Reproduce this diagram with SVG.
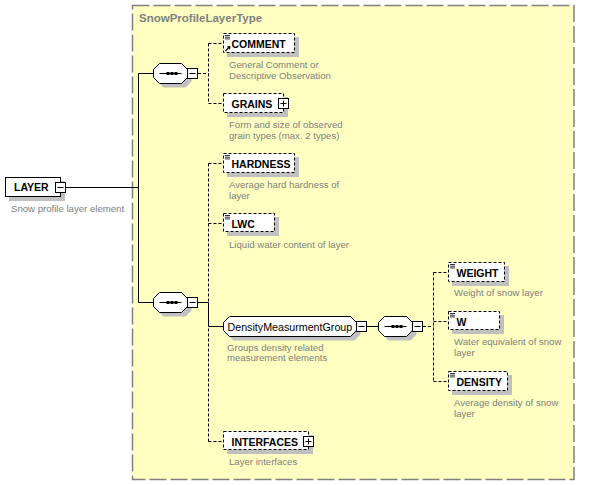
<svg xmlns="http://www.w3.org/2000/svg" width="593" height="485" viewBox="0 0 593 485">
<defs>
<style>
.bg{fill:#ffffc2;stroke:#808080;stroke-width:1.5;stroke-dasharray:17 4}
.title{font-family:"Liberation Sans",Arial,sans-serif;font-weight:bold;font-size:11.5px;fill:#808080}
.sh{fill:#c0c0c0}
.el{fill:#fff;stroke:#000;stroke-width:1;stroke-dasharray:3 2}
.sol{fill:#fff;stroke:#000;stroke-width:1}
.lbl{font-family:"Liberation Sans",Arial,sans-serif;font-weight:bold;font-size:10.5px;fill:#000}
.grp{font-family:"Liberation Sans",Arial,sans-serif;font-size:10.7px;fill:#000}
.desc{font-family:"Liberation Sans",Arial,sans-serif;font-size:9.6px;fill:#808080}
.ln{stroke:#000;stroke-width:1;fill:none}
.dl{stroke:#000;stroke-width:1;fill:none;stroke-dasharray:3 2}
.ic{stroke:#000;stroke-width:0.8}
</style>
<g id="seqshape">
<polygon class="sh" points="10,4 32,4 38,10 38,18 32,24 10,24 4,18 4,10"/>
<polygon class="sol" points="6,0 28,0 34,6 34,14 28,20 6,20 0,14 0,6"/>
<line class="ln" x1="6" y1="10" x2="28" y2="10"/>
<rect x="13" y="8.5" width="3" height="3" fill="#000"/>
<rect x="17" y="8.5" width="3" height="3" fill="#000"/>
<rect x="21" y="8.5" width="3" height="3" fill="#000"/>
</g>
<g id="minus">
<rect class="sol" x="0" y="0" width="10" height="10"/>
<line class="ln" x1="2" y1="5" x2="8" y2="5"/>
</g>
<g id="plus">
<rect class="sol" x="0" y="0" width="10" height="10"/>
<line class="ln" x1="2" y1="5" x2="8" y2="5"/>
<line class="ln" x1="5" y1="2" x2="5" y2="8"/>
</g>
<g id="doc">
<line class="ic" x1="0" y1="1.5" x2="5" y2="1.5"/>
<line class="ic" x1="0" y1="3.2" x2="5" y2="3.2"/>
<line class="ic" x1="0" y1="4.9" x2="5" y2="4.9"/>
</g>
</defs>

<rect class="bg" x="132.5" y="5.5" width="441.5" height="474"/>
<text class="title" x="139" y="22">SnowProfileLayerType</text>

<g id="connectors">
<line class="ln" x1="66" y1="187.5" x2="138.5" y2="187.5"/>
<line class="ln" x1="138.5" y1="73.5" x2="138.5" y2="302.5"/>
<line class="ln" x1="138.5" y1="73.5" x2="153.5" y2="73.5"/>
<line class="ln" x1="138.5" y1="302.5" x2="153.5" y2="302.5"/>
<line class="dl" x1="198" y1="73.5" x2="208.5" y2="73.5"/>
<line class="dl" x1="208.5" y1="43.5" x2="208.5" y2="103.5"/>
<line class="dl" x1="208.5" y1="43.5" x2="223.5" y2="43.5"/>
<line class="dl" x1="208.5" y1="103.5" x2="223.5" y2="103.5"/>
<line class="dl" x1="208.5" y1="163.5" x2="208.5" y2="441.5"/>
<line class="dl" x1="208.5" y1="163.5" x2="223.5" y2="163.5"/>
<line class="dl" x1="208.5" y1="223.5" x2="223.5" y2="223.5"/>
<line class="dl" x1="208.5" y1="441.5" x2="223.5" y2="441.5"/>
<line class="ln" x1="198" y1="302.5" x2="208.5" y2="302.5"/>
<line class="ln" x1="208.5" y1="302.5" x2="208.5" y2="326.5"/>
<line class="ln" x1="208.5" y1="326.5" x2="223.5" y2="326.5"/>
<line class="ln" x1="367" y1="326.5" x2="378.5" y2="326.5"/>
<line class="dl" x1="423" y1="326.5" x2="433.5" y2="326.5"/>
<line class="dl" x1="433.5" y1="272.5" x2="433.5" y2="381.5"/>
<line class="dl" x1="433.5" y1="272.5" x2="448.5" y2="272.5"/>
<line class="dl" x1="433.5" y1="321.5" x2="448.5" y2="321.5"/>
<line class="dl" x1="433.5" y1="381.5" x2="448.5" y2="381.5"/>
</g>

<g id="LAYER">
<rect class="sh" x="9" y="181" width="56" height="20"/>
<rect class="sol" x="5.5" y="177.5" width="55" height="19"/>
<text class="lbl" x="14" y="191">LAYER</text>
<use href="#minus" x="55.5" y="182.5"/>
<text class="desc" x="11" y="212">Snow profile layer element</text>
</g>

<g id="seq1">
<use href="#seqshape" x="153.5" y="63.5"/>
<use href="#minus" x="187.5" y="68.5"/>
</g>

<g id="COMMENT">
<rect class="sh" x="227" y="37" width="72" height="20"/>
<rect class="el" x="223.5" y="33.5" width="71" height="19"/>
<use href="#doc" x="225" y="34"/>
<line x1="225.5" y1="51" x2="228.5" y2="48" stroke="#000" stroke-width="1.3"/>
<polygon points="230.5,46 226.8,46.6 229.9,49.7" fill="#000"/>
<text class="lbl" x="231.5" y="47.5">COMMENT</text>
<text class="desc" x="229" y="68">General Comment or</text>
<text class="desc" x="229" y="79">Descriptive Observation</text>
</g>

<g id="GRAINS">
<rect class="sh" x="227" y="97" width="61" height="20"/>
<rect class="el" x="223.5" y="93.5" width="60" height="19"/>
<text class="lbl" x="231.5" y="107.5">GRAINS</text>
<use href="#plus" x="278.5" y="98.5"/>
<text class="desc" x="229" y="127.5">Form and size of observed</text>
<text class="desc" x="229" y="138.5">grain types (max. 2 types)</text>
</g>

<g id="HARDNESS">
<rect class="sh" x="227" y="157" width="72" height="20"/>
<rect class="el" x="223.5" y="153.5" width="71" height="19"/>
<use href="#doc" x="225" y="154"/>
<text class="lbl" x="231.5" y="167.5">HARDNESS</text>
<text class="desc" x="229" y="188">Average hard hardness of</text>
<text class="desc" x="229" y="199">layer</text>
</g>

<g id="LWC">
<rect class="sh" x="227" y="217" width="52" height="19"/>
<rect class="el" x="223.5" y="213.5" width="51" height="18"/>
<use href="#doc" x="225" y="214"/>
<text class="lbl" x="231.5" y="227.5">LWC</text>
<text class="desc" x="229" y="248">Liquid water content of layer</text>
</g>

<g id="seq2">
<use href="#seqshape" x="153.5" y="292.5"/>
<use href="#minus" x="187.5" y="297.5"/>
</g>

<g id="DensityMeasurmentGroup">
<polygon class="sh" points="233.5,320.5 354.5,320.5 360.5,326.5 360.5,334.5 354.5,340.5 233.5,340.5 227.5,334.5 227.5,326.5"/>
<polygon class="sol" points="229.5,316.5 350.5,316.5 356.5,322.5 356.5,330.5 350.5,336.5 229.5,336.5 223.5,330.5 223.5,322.5"/>
<text class="grp" x="227.5" y="330.5">DensityMeasurmentGroup</text>
<use href="#minus" x="356.5" y="321.5"/>
<text class="desc" x="227" y="350.5">Groups density related</text>
<text class="desc" x="227" y="361">measurement elements</text>
</g>

<g id="seq3">
<use href="#seqshape" x="378.5" y="316.5"/>
<use href="#minus" x="412.5" y="321.5"/>
</g>

<g id="WEIGHT">
<rect class="sh" x="452" y="266" width="57" height="20"/>
<rect class="el" x="448.5" y="262.5" width="56" height="19"/>
<use href="#doc" x="450" y="263"/>
<text class="lbl" x="456.5" y="276.5">WEIGHT</text>
<text class="desc" x="454" y="296">Weight of snow layer</text>
</g>

<g id="W">
<rect class="sh" x="452" y="315" width="52" height="19"/>
<rect class="el" x="448.5" y="311.5" width="51" height="18"/>
<use href="#doc" x="450" y="312"/>
<text class="lbl" x="456.5" y="325.5">W</text>
<text class="desc" x="454" y="345">Water equivalent of snow</text>
<text class="desc" x="454" y="356">layer</text>
</g>

<g id="DENSITY">
<rect class="sh" x="452" y="375" width="60" height="20"/>
<rect class="el" x="448.5" y="371.5" width="59" height="19"/>
<use href="#doc" x="450" y="372"/>
<text class="lbl" x="456.5" y="385.5">DENSITY</text>
<text class="desc" x="454" y="405.5">Average density of snow</text>
<text class="desc" x="454" y="416.5">layer</text>
</g>

<g id="INTERFACES">
<rect class="sh" x="227" y="435" width="86" height="19"/>
<rect class="el" x="223.5" y="431.5" width="85" height="18"/>
<text class="lbl" x="231.5" y="445.5">INTERFACES</text>
<use href="#plus" x="303.5" y="436.5"/>
<text class="desc" x="229" y="465">Layer interfaces</text>
</g>
</svg>
